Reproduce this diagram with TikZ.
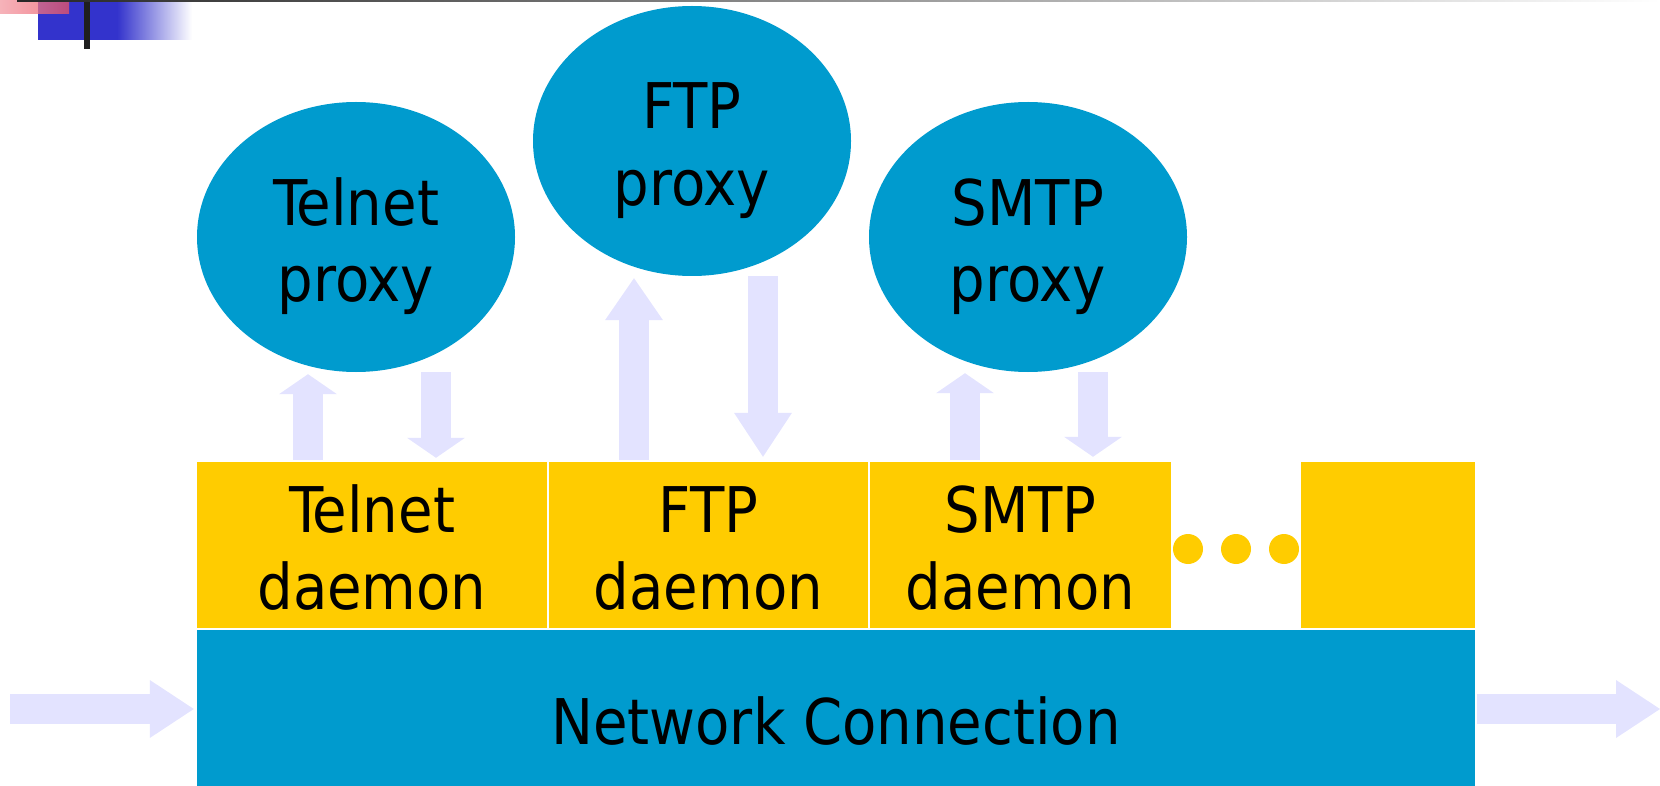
\documentclass[tikz,border=0pt]{standalone}
\usepackage{fontspec}
\usepackage{tikz}
\usetikzlibrary{shapes.geometric,arrows.meta}
\newfontfamily\slidefont[FakeStretch=0.99]{DejaVu Sans Condensed}
\definecolor{proxyblue}{RGB}{0,155,206}
\definecolor{daemonyellow}{RGB}{255,204,0}
\definecolor{flowlilac}{RGB}{227,227,255}
\definecolor{logoblue}{RGB}{51,51,204}
\definecolor{logored}{RGB}{235,85,100}

\begin{document}
\begin{tikzpicture}[x=1pt,y=-1pt,
  every node/.style={font=\slidefont\fontsize{63pt}{77pt}\selectfont,inner sep=0pt},
  proxy/.style={ellipse,fill=proxyblue,minimum width=318pt,minimum height=270pt,
    align=center,text height=130pt,text depth=0pt},
  daemon/.style={rectangle,fill=daemonyellow,minimum height=166pt,
    align=center,text height=128pt,text depth=0pt},
  flow/.style={draw=flowlilac,line width=30pt,
    -{Triangle[length=#1,width=58pt,line width=0pt]}},
  flow/.default=20pt]
\useasboundingbox (0,0) rectangle (1660,786);
% slide corner
\shade[left color=logoblue,right color=white] (117,2) rectangle (192,40);
\fill[logoblue] (38,2) rectangle (117,40);
\shade[left color=logored!60,right color=logored,opacity=0.75] (0,0) rectangle (69,14);
\fill[black!88] (84,0) rectangle (90,49);
\shade[left color=black!85,right color=white] (17,0) rectangle (1660,2);
%
%  telnet   ftp   smtp      (proxies)
%  telnet | ftp | smtp ...  (daemons)
%  network connection
\node[proxy] (telnetp) at (356,237) {Telnet\\proxy};
\node[proxy] (ftpp) at (692,141) {FTP\\proxy};
\node[proxy] (smtpp) at (1028,237) {SMTP\\proxy};
%
\node[daemon,minimum width=350pt] (telnetd) at (372,545) {Telnet\\daemon};
\node[daemon,minimum width=319pt] (ftpd) at (708.5,545) {FTP\\daemon};
\node[daemon,minimum width=301pt] (smtpd) at (1020.5,545) {SMTP\\daemon};
\node[daemon,minimum width=174pt] (spared) at (1388,545) {};
\foreach \x [count=\i] in {1188,1236,1284}
  \node[circle,fill=daemonyellow,minimum size=30pt] (dot\i) at (\x,549) {};
%
\node[fill=proxyblue,minimum width=1278pt,minimum height=156pt,
  text height=72pt,text depth=0pt] (net) at (836,708) {Network Connection};
%
\draw[flow] ([xshift=-64pt,yshift=2pt]telnetd.north) -- ([xshift=-48pt,yshift=-2pt]telnetp.south);
\draw[flow] ([xshift=80pt]telnetp.south) -- ([xshift=64pt,yshift=4pt]telnetd.north);
\draw[flow=42pt] ([xshift=-74.5pt,yshift=2pt]ftpd.north) -- ([xshift=-58pt,yshift=-2pt]ftpp.south);
\draw[flow=44pt] ([xshift=71pt]ftpp.south) -- ([xshift=54.5pt,yshift=5pt]ftpd.north);
\draw[flow] ([xshift=-55.5pt,yshift=2pt]smtpd.north) -- ([xshift=-63pt,yshift=-1pt]smtpp.south);
\draw[flow] ([xshift=65pt]smtpp.south) -- ([xshift=72.5pt,yshift=5pt]smtpd.north);
%
\coordinate (inflow) at (10,709);
\coordinate (outflow) at (1660,709);
\draw[flow=44pt] (inflow) -- ([xshift=-3pt,yshift=-1pt]net.west);
\draw[flow=44pt] ([xshift=2pt,yshift=-1pt]net.east) -- (outflow);
\end{tikzpicture}
\end{document}
